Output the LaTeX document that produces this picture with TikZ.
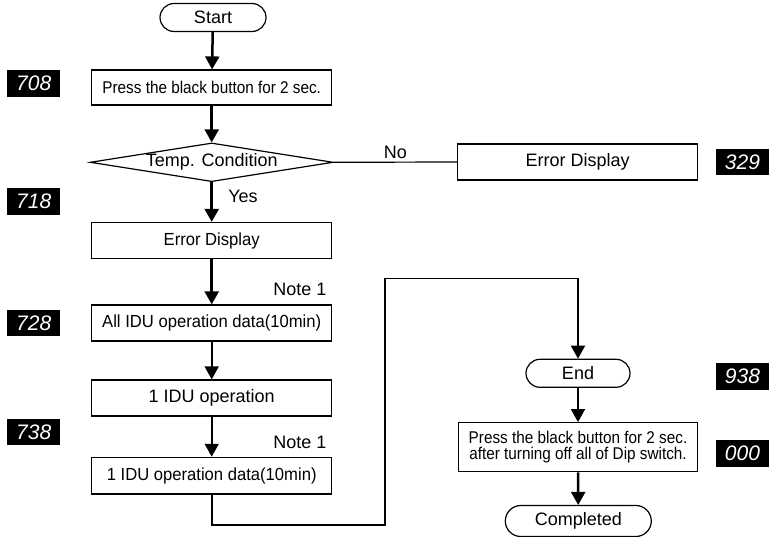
\documentclass[tikz,border=0pt]{standalone}
\usepackage{fontspec}
\setmainfont{Liberation Sans}
\newfontfamily\narrowsf[FakeStretch=0.9]{Liberation Sans}
\newfontfamily\semisf[FakeStretch=0.95]{Liberation Sans}
\usetikzlibrary{arrows.meta,shapes.geometric,shapes.misc}

\tikzset{
    bigtxt/.style={font=\fontsize{18pt}{20pt}\selectfont},
    midtxt/.style={font=\semisf\fontsize{17.5pt}{18pt}\selectfont},
    smalltxt/.style={font=\narrowsf\fontsize{17pt}{16.5pt}\selectfont},
    box/.style={draw, line width=1.2pt, minimum width=240pt, minimum height=36pt, inner sep=0pt},
    term/.style={draw, line width=1.2pt, rounded rectangle, minimum height=28pt, inner sep=0pt, bigtxt},
    decision/.style={draw, line width=1.2pt, diamond, aspect=6.28, minimum width=243pt, minimum height=38.7pt, inner sep=0pt, bigtxt},
    segdisp/.style={fill=black, text=white, minimum width=53pt, minimum height=26.5pt, inner sep=0pt,
        font=\fontsize{21pt}{21pt}\selectfont\itshape},
    flow/.style={-{Triangle[width=14pt,length=13pt]}, line width=2.5pt},
    flowthin/.style={-{Triangle[width=14pt,length=13pt]}, line width=1.6pt},
}

\begin{document}
\begin{tikzpicture}[x=1pt, y=-1pt]
    \useasboundingbox (0,0) rectangle (770,537);

    % main column
    \node[term, minimum width=106pt] (start) at (213,17.5) {Start};
    \node[box, smalltxt, minimum height=35pt] (press1) at (211.7,87.5) {Press the black button for 2 sec.};
    \node[decision] (cond) at (211.7,162.3) {Temp. Condition};
    \node[box, midtxt] (err1) at (211.7,240.5) {Error Display};
    \node[box, midtxt] (alldata) at (211.7,323) {All IDU operation data(10min)};
    \node[box, bigtxt] (oneop) at (211.7,398) {1 IDU operation};
    \node[box, midtxt, minimum height=36.7pt] (onedata) at (211.7,475.7) {1 IDU operation data(10min)};

    % right column
    \node[box, bigtxt] (err2) at (577.7,162) {Error Display};
    \node[term, minimum width=104pt] (endt) at (578,373.3) {End};
    \node[box, smalltxt, minimum width=239pt, minimum height=49pt, align=center] (press2) at (578,447.2)
        {Press the black button for 2 sec.\\after turning off all of Dip switch.};
    \node[term, minimum width=146pt, minimum height=31pt] (done) at (578.3,521) {Completed};

    % displays
    \node[segdisp] (d708) at (33.7,83.3) {708};
    \node[segdisp] (d718) at (33.7,201.5) {718};
    \node[segdisp] (d728) at (33.7,323) {728};
    \node[segdisp] (d738) at (33.7,432) {738};
    \node[segdisp] (d329) at (742.5,162) {329};
    \node[segdisp] (d938) at (742.5,376.7) {938};
    \node[segdisp] (d000) at (742.5,453.7) {000};

    % notes
    \node[bigtxt, anchor=east] (note1) at (330,289.3) {Note 1};
    \node[bigtxt, anchor=east] (note2) at (330,442.7) {Note 1};

    \coordinate (loopA) at (385,525);
    \coordinate (loopB) at (578,278.3);

    \draw[flow] (start) -- (press1);
    \draw[flow] (press1) -- (cond);
    \draw[line width=1.2pt] (cond.east) -- node[above, bigtxt] {No} (err2.west);
    \draw[flow] (cond) -- node[pos=0.35, right=12pt, bigtxt] {Yes} (err1);
    \draw[flow] (err1) -- (alldata);
    \draw[flowthin] (alldata) -- (oneop);
    \draw[flowthin] (oneop) -- (onedata);
    \draw[flowthin] (onedata.south) |- (loopA) |- (loopB) -- (endt.north);
    \draw[flowthin] (endt) -- (press2);
    \draw[flow] (press2) -- (done);
\end{tikzpicture}
\end{document}
